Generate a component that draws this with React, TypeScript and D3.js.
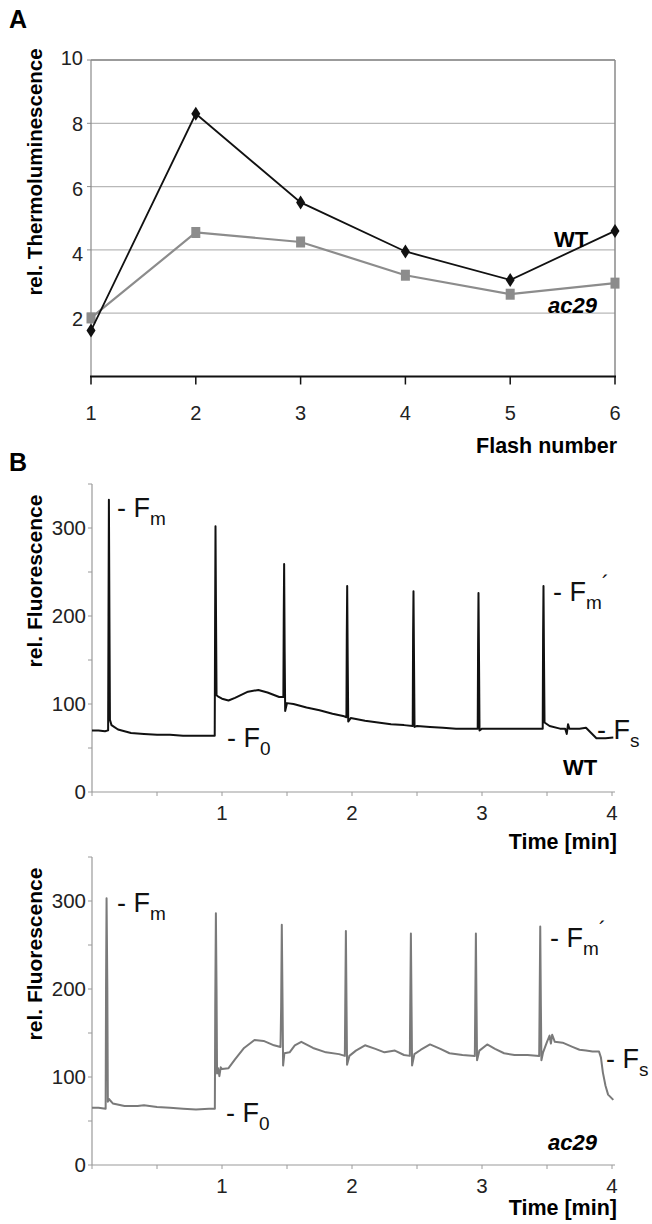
import React, { useEffect, useRef } from 'react';
import * as d3 from 'd3';

// panel A: thermoluminescence per flash
const flashNumbers = [1, 2, 3, 4, 5, 6];
const wtTL = [1.45, 8.3, 5.5, 3.95, 3.05, 4.6];
const ac29TL = [1.85, 4.55, 4.25, 3.2, 2.6, 2.95];
const tlTicks = [2, 4, 6, 8, 10];

// panel B: fluorescence traces (time in min, rel. fluorescence)
const wtTime = [0, 0.05, 0.1, 0.124, 0.127, 0.13, 0.134, 0.138, 0.15, 0.2, 0.3, 0.4, 0.5, 0.6, 0.7, 0.8, 0.9, 0.944,
  0.947, 0.95, 0.954, 0.958, 0.975, 1.0, 1.05, 1.1, 1.2, 1.28, 1.35, 1.44, 1.472, 1.475, 1.478, 1.482, 1.486, 1.5,
  1.55, 1.65, 1.75, 1.85, 1.94, 1.957, 1.96, 1.963, 1.967, 1.971, 1.99, 2.1, 2.2, 2.3, 2.4, 2.467, 2.47, 2.473,
  2.477, 2.481, 2.5, 2.6, 2.7, 2.8, 2.9, 2.967, 2.97, 2.973, 2.977, 2.981, 3.0, 3.1, 3.2, 3.3, 3.4, 3.467, 3.47,
  3.473, 3.477, 3.481, 3.52, 3.6, 3.64, 3.652, 3.662, 3.672, 3.75, 3.8, 3.84, 3.88, 3.95, 4.01];
const wtFluor = [70, 70, 69, 70, 200, 332, 200, 82, 76, 71, 67, 66, 65, 65, 64, 64, 64, 64,
  200, 302, 200, 110, 108, 106, 104, 107, 114, 116, 113, 108, 108, 200, 259, 160, 92, 101,
  100, 96, 93, 89, 86, 85, 180, 234, 150, 80, 84, 81, 79, 77, 76, 75, 180, 228,
  150, 74, 75, 74, 73, 72, 72, 72, 170, 226, 150, 70, 72, 72, 72, 72, 72, 72, 180,
  234, 150, 79, 75, 72, 72, 66, 77, 72, 72, 73, 67, 61, 61, 62];

const ac29Time = [0, 0.05, 0.105, 0.108, 0.112, 0.118, 0.122, 0.13, 0.16, 0.25, 0.35, 0.4, 0.5, 0.6, 0.7, 0.8, 0.9,
  0.945, 0.948, 0.953, 0.958, 0.962, 0.97, 0.98, 0.99, 1.0, 1.05, 1.1, 1.17, 1.25, 1.32, 1.4, 1.45, 1.455, 1.46,
  1.466, 1.47, 1.48, 1.52, 1.56, 1.61, 1.7, 1.8, 1.9, 1.945, 1.948, 1.953, 1.958, 1.962, 1.98, 2.03, 2.1, 2.18,
  2.25, 2.33, 2.4, 2.445, 2.448, 2.453, 2.458, 2.462, 2.48, 2.53, 2.6, 2.68, 2.75, 2.85, 2.945, 2.948, 2.953,
  2.958, 2.962, 2.98, 3.04, 3.1, 3.17, 3.25, 3.35, 3.44, 3.443, 3.448, 3.453, 3.457, 3.47, 3.5, 3.52, 3.53, 3.54,
  3.56, 3.62, 3.7, 3.75, 3.8, 3.85, 3.9, 3.915, 3.93, 3.95, 3.97, 4.01];
const ac29Fluor = [65, 65, 64, 200, 303, 200, 72, 75, 70, 67, 67, 68, 66, 65, 64, 63, 64,
  64, 180, 286, 200, 104, 110, 101, 111, 109, 110, 120, 133, 142, 141, 136, 134, 180, 273,
  180, 113, 127, 128, 136, 140, 133, 128, 126, 124, 180, 266, 180, 114, 124, 130, 136, 132,
  128, 130, 125, 124, 180, 263, 180, 113, 126, 131, 137, 132, 127, 125, 124, 180, 263,
  180, 119, 130, 137, 132, 127, 125, 125, 124, 180, 271, 180, 119, 128, 140, 147, 138, 148,
  140, 139, 134, 131, 130, 129, 129, 122, 105, 90, 80, 74];

const timeTicks = [0, 0.5, 1, 1.5, 2, 2.5, 3, 3.5, 4];
const fluorTicks = [0, 50, 100, 150, 200, 250, 300, 350];

const FONT = '"Liberation Sans", Arial, sans-serif';

const App = () => {
    const svgRef = useRef();

    useEffect(() => {
        const svg = d3.select(svgRef.current);
        svg.selectAll("*").remove();
        svg.attr("font-family", FONT);

        // ---------- panel A ----------
        const xA = d3.scaleLinear().domain([1, 6]).range([91, 615]);
        const yA = d3.scaleLinear().domain([0, 10]).range([376.5, 60]);

        svg.append("text").attr("x", 9).attr("y", 28).attr("font-size", 25).attr("font-weight", "bold").text("A");

        const gA = svg.append("g");
        gA.selectAll("line.grid")
            .data(tlTicks)
            .join("line")
            .attr("x1", xA(1)).attr("x2", xA(6))
            .attr("y1", d => yA(d)).attr("y2", d => yA(d))
            .attr("stroke", d => d === 10 ? "#7a7a7a" : "#b8b8b8")
            .attr("stroke-width", d => d === 10 ? 1.5 : 1.2);
        gA.append("line").attr("x1", xA(6)).attr("x2", xA(6)).attr("y1", yA(10)).attr("y2", yA(0))
            .attr("stroke", "#8a8a8a").attr("stroke-width", 1.5);
        gA.append("line").attr("x1", xA(1)).attr("x2", xA(1)).attr("y1", yA(10)).attr("y2", yA(0))
            .attr("stroke", "#8a8a8a").attr("stroke-width", 1.2);
        gA.selectAll("line.ytick")
            .data(tlTicks)
            .join("line")
            .attr("x1", xA(1) - 4).attr("x2", xA(1))
            .attr("y1", d => yA(d)).attr("y2", d => yA(d))
            .attr("stroke", "#8a8a8a");
        gA.selectAll("text.ylab")
            .data(tlTicks)
            .join("text")
            .attr("x", 83).attr("y", d => yA(d) + (8 - d) * 0.9)
            .attr("dy", "0.36em")
            .attr("text-anchor", "end")
            .attr("font-size", 20)
            .attr("fill", "#222")
            .text(d => d);

        // x axis
        gA.append("line").attr("x1", xA(1) - 1).attr("x2", xA(6) + 1).attr("y1", yA(0)).attr("y2", yA(0))
            .attr("stroke", "#111").attr("stroke-width", 2.2);
        gA.selectAll("line.xtick")
            .data(flashNumbers)
            .join("line")
            .attr("x1", d => xA(d)).attr("x2", d => xA(d))
            .attr("y1", yA(0)).attr("y2", yA(0) + 8)
            .attr("stroke", "#111").attr("stroke-width", 1.5);
        gA.selectAll("text.xlab")
            .data(flashNumbers)
            .join("text")
            .attr("x", d => xA(d)).attr("y", 420)
            .attr("text-anchor", "middle")
            .attr("font-size", 20)
            .attr("fill", "#222")
            .text(d => d);
        gA.append("text").attr("x", 617).attr("y", 453).attr("text-anchor", "end")
            .attr("font-size", 21.5).attr("font-weight", "bold").text("Flash number");
        gA.append("text")
            .attr("transform", `translate(42,172) rotate(-90)`)
            .attr("text-anchor", "middle")
            .attr("font-size", 20.5).attr("font-weight", "bold")
            .text("rel. Thermoluminescence");

        const tlLine = d3.line().x((d, i) => xA(flashNumbers[i])).y(d => yA(d));
        gA.append("path").attr("d", tlLine(ac29TL)).attr("fill", "none")
            .attr("stroke", "#8c8c8c").attr("stroke-width", 2.2);
        gA.selectAll("rect.sq")
            .data(ac29TL)
            .join("rect")
            .attr("x", (d, i) => xA(flashNumbers[i]) - 4.5)
            .attr("y", d => yA(d) - 5.5)
            .attr("width", 9).attr("height", 11)
            .attr("fill", "#8c8c8c");
        gA.append("path").attr("d", tlLine(wtTL)).attr("fill", "none")
            .attr("stroke", "#111").attr("stroke-width", 1.8);
        gA.selectAll("path.dia")
            .data(wtTL)
            .join("path")
            .attr("d", (d, i) => {
                const cx = xA(flashNumbers[i]), cy = yA(d);
                return `M${cx},${cy - 7}L${cx + 4.5},${cy}L${cx},${cy + 7}L${cx - 4.5},${cy}Z`;
            })
            .attr("fill", "#111");
        gA.append("text").attr("x", 554).attr("y", 247).attr("font-size", 22).attr("font-weight", "bold").text("WT");
        gA.append("text").attr("x", 548).attr("y", 313).attr("font-size", 22).attr("font-weight", "bold")
            .attr("font-style", "italic").text("ac29");

        svg.append("text").attr("x", 9).attr("y", 471).attr("font-size", 25).attr("font-weight", "bold").text("B");

        // ---------- panel B ----------
        const fluorPanel = (opts) => {
            const { time, fluor, yBottom, yTop, color, name, italic, ann, titleDy } = opts;
            const x = d3.scaleLinear().domain([0, 4]).range([92, 612]);
            const y = d3.scaleLinear().domain([0, 350]).range([yBottom, yTop]);
            const g = svg.append("g");

            g.append("line").attr("x1", x(0)).attr("x2", x(0)).attr("y1", y(0)).attr("y2", y(350))
                .attr("stroke", "#9a9a9a").attr("stroke-width", 1.2);
            g.append("line").attr("x1", x(0)).attr("x2", x(4) + 3).attr("y1", y(0)).attr("y2", y(0))
                .attr("stroke", "#9a9a9a").attr("stroke-width", 1.2);
            g.selectAll("line.yt")
                .data(fluorTicks)
                .join("line")
                .attr("x1", x(0) - 4).attr("x2", x(0))
                .attr("y1", d => y(d)).attr("y2", d => y(d))
                .attr("stroke", "#9a9a9a");
            g.selectAll("line.xt")
                .data(timeTicks)
                .join("line")
                .attr("x1", d => x(d)).attr("x2", d => x(d))
                .attr("y1", y(0)).attr("y2", y(0) + 4)
                .attr("stroke", "#9a9a9a");
            g.selectAll("text.yl")
                .data(fluorTicks.filter(d => d % 100 === 0))
                .join("text")
                .attr("x", x(0) - 6).attr("y", d => y(d))
                .attr("dy", "0.36em")
                .attr("text-anchor", "end")
                .attr("font-size", 20.5)
                .attr("fill", "#222")
                .text(d => d);
            g.selectAll("text.xl")
                .data(timeTicks.filter(d => d > 0 && d % 1 === 0))
                .join("text")
                .attr("x", d => x(d)).attr("y", y(0) + 28)
                .attr("text-anchor", "middle")
                .attr("font-size", 20.5)
                .attr("fill", "#222")
                .text(d => d);
            g.append("text").attr("x", 617).attr("y", y(0) + titleDy).attr("text-anchor", "end")
                .attr("font-size", 21.5).attr("font-weight", "bold").text("Time [min]");
            g.append("text")
                .attr("transform", `translate(42,${y(0) - 211}) rotate(-90)`)
                .attr("text-anchor", "middle")
                .attr("font-size", 21).attr("font-weight", "bold")
                .text("rel. Fluorescence");

            const line = d3.line().x((d, i) => x(time[i])).y(d => y(d));
            g.append("path").attr("d", line(fluor)).attr("fill", "none")
                .attr("stroke", color).attr("stroke-width", 2).attr("stroke-linejoin", "round");

            g.append("text").attr("x", name.x).attr("y", name.y).attr("font-size", 22)
                .attr("font-weight", "bold").attr("font-style", italic ? "italic" : "normal").text(name.label);

            ann.forEach(a => {
                const t = g.append("text").attr("x", a.x).attr("y", a.y).attr("font-size", 27).attr("fill", "#111");
                t.append("tspan").text("- F");
                t.append("tspan").attr("dy", 8).attr("font-size", 19).text(a.sub);
                if (a.prime) t.append("tspan").attr("dy", -18).attr("font-size", 22).text("´");
            });
        };

        fluorPanel({
            time: wtTime, fluor: wtFluor, yBottom: 792, yTop: 484, color: "#111", titleDy: 57,
            name: { label: "WT", x: 563, y: 775 }, italic: false,
            ann: [
                { x: 117, y: 517, sub: "m" },
                { x: 227, y: 747, sub: "0" },
                { x: 553, y: 601, sub: "m", prime: true },
                { x: 597, y: 739, sub: "s" }
            ]
        });
        fluorPanel({
            time: ac29Time, fluor: ac29Fluor, yBottom: 1165, yTop: 857, color: "#7a7a7a", titleDy: 50,
            name: { label: "ac29", x: 548, y: 1150 }, italic: true,
            ann: [
                { x: 117, y: 912, sub: "m" },
                { x: 226, y: 1122, sub: "0" },
                { x: 550, y: 947, sub: "m", prime: true },
                { x: 606, y: 1068, sub: "s" }
            ]
        });
    }, []);

    return (
        <svg ref={svgRef} width={652} height={1224}
            style={{ position: 'absolute', left: 0, top: 0, background: '#fff' }}></svg>
    );
};

export default App;
